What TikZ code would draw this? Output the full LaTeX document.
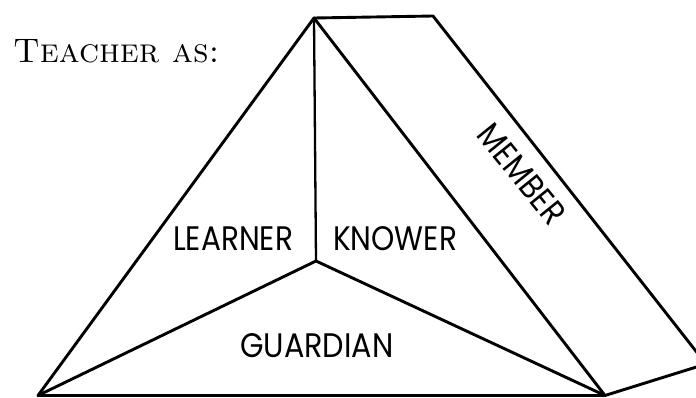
\documentclass[tikz,border=0pt]{standalone}
\usepackage{fontspec}
\newfontfamily\labelfont{Poppins}
\begin{document}
\begin{tikzpicture}[x=1pt,y=-1pt,
  edge/.style={line width=2.9pt,line join=round,line cap=round},
  lbl/.style={inner sep=0pt,font=\labelfont\fontsize{34}{34}\selectfont},
  title/.style={inner sep=0pt,anchor=base west,font=\fontsize{34}{34}\selectfont}]
\useasboundingbox (0,0) rectangle (696,397);
\begin{scope}
\clip (0,0) rectangle (696,397);
\coordinate (apex) at (314,18);
\coordinate (topr) at (433,16);
\coordinate (mid) at (316,261);
\coordinate (bl) at (38,395.5);
\coordinate (br) at (605,395.5);
\coordinate (farr) at (706,364);
\draw[edge] (bl) -- (apex) -- (br) -- cycle;
\draw[edge] (apex) -- (topr) -- (farr) -- (br);
\draw[edge,line width=2.3pt] (apex) -- (mid);
\draw[edge] (bl) -- (mid) -- (br);
\end{scope}
\node[title] (t) at (13,62) {\textsc{Teacher as:}};
\node[lbl,anchor=base west] (learner) at (173,250) {\scalebox{0.87}[1]{LEARNER}};
\node[lbl,anchor=base west] (knower) at (333,250) {\scalebox{0.87}[1]{KNOWER}};
\node[lbl,anchor=base west] (guardian) at (240,357) {\scalebox{0.89}[1]{GUARDIAN}};
\node[lbl,rotate=-51] (member) at (522,174) {\scalebox{0.87}[1]{MEMBER}};
\end{tikzpicture}
\end{document}
